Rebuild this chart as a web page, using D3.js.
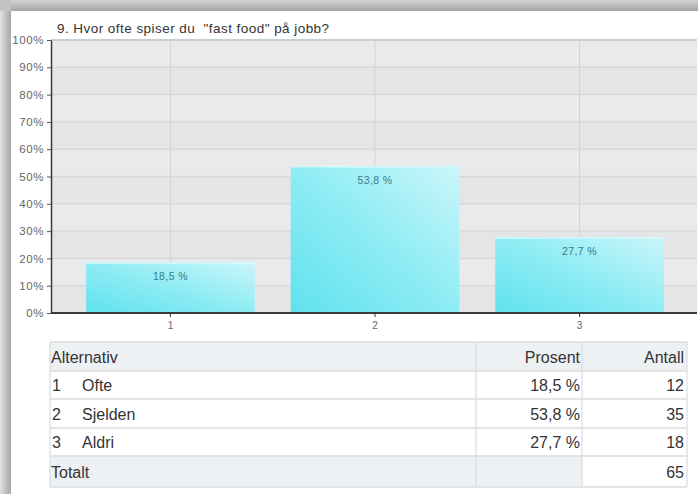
<!DOCTYPE html>
<html>
<head>
<meta charset="utf-8">
<script src="https://cdn.jsdelivr.net/npm/d3@7"></script>
<style>
  html, body { margin: 0; padding: 0; background: #fff; }
  svg { display: block; font-family: Arial, "Liberation Sans", Helvetica, sans-serif; }
</style>
</head>
<body>
<svg id="chart" width="698" height="494"></svg>
<script>
// Survey question 9: how often do you eat fast food at work
const title = "9. Hvor ofte spiser du  \"fast food\" på jobb?";
const categories = ["1", "2", "3"];
const alternatives = ["Ofte", "Sjelden", "Aldri"];
const percents = [18.5, 53.8, 27.7];
const counts = [12, 35, 18];
const totalCount = 65;
const yTicks = [0, 10, 20, 30, 40, 50, 60, 70, 80, 90, 100];
const tableHeaders = ["Alternativ", "Prosent", "Antall"];
const totalLabel = "Totalt";

const W = 698, H = 494;
const svg = d3.select("#chart");
const defs = svg.append("defs");

// Norwegian number format: decimal comma
const nb = d3.formatLocale({ decimal: ",", thousands: " ", grouping: [3], currency: ["", " kr"] });
const fmtPct = v => nb.format(".1f")(v) + " %";

// ---- card with soft drop shadow ----
const gLeft = defs.append("linearGradient").attr("id", "shLeft").attr("x1", 0).attr("x2", 1).attr("y1", 0).attr("y2", 0);
gLeft.append("stop").attr("offset", 0).attr("stop-color", "#e2e2e2");
gLeft.append("stop").attr("offset", 1).attr("stop-color", "#a6a6a6");
const gTop = defs.append("linearGradient").attr("id", "shTop").attr("x1", 0).attr("x2", 0).attr("y1", 0).attr("y2", 1);
gTop.append("stop").attr("offset", 0).attr("stop-color", "#d2d2d2");
gTop.append("stop").attr("offset", 1).attr("stop-color", "#a4a4a4");

svg.append("rect").attr("x", 0).attr("y", 0).attr("width", W).attr("height", H).attr("fill", "#fff");
svg.append("rect").attr("x", 0).attr("y", 0).attr("width", 11).attr("height", H).attr("fill", "url(#shLeft)");
svg.append("rect").attr("x", 0).attr("y", 0).attr("width", W).attr("height", 11).attr("fill", "url(#shTop)");
svg.append("rect").attr("x", 0).attr("y", 0).attr("width", 11).attr("height", 11).attr("fill", "#c2c2c2");

// ---- plot area ----
const plot = { left: 51, right: 697, top: 40, bottom: 313 };

const x = d3.scaleBand()
  .domain(categories)
  .range([53, plot.right])
  .paddingInner(0.176)
  .paddingOuter(0.162);

const y = d3.scaleLinear().domain([0, 100]).range([plot.bottom, plot.top]);

// alternating background stripes
const bands = yTicks.slice(0, -1).map((t, i) => ({ lo: t, hi: yTicks[i + 1], i }));
svg.append("g").selectAll("rect").data(bands).join("rect")
  .attr("x", plot.left).attr("width", plot.right - plot.left)
  .attr("y", d => y(d.hi)).attr("height", d => y(d.lo) - y(d.hi))
  .attr("fill", d => d.i % 2 === 0 ? "#e4e5e7" : "#e9eaec");

// horizontal grid
svg.append("g").selectAll("line").data(yTicks.slice(1, -1)).join("line")
  .attr("x1", plot.left).attr("x2", plot.right)
  .attr("y1", d => y(d)).attr("y2", d => y(d))
  .attr("stroke", "#d7d8da").attr("stroke-width", 1.5);

// vertical grid at category centres
svg.append("g").selectAll("line").data(categories).join("line")
  .attr("x1", d => x(d) + x.bandwidth() / 2).attr("x2", d => x(d) + x.bandwidth() / 2)
  .attr("y1", plot.top).attr("y2", plot.bottom)
  .attr("stroke", "#d2d3d5").attr("stroke-width", 1);

// top border of plot
svg.append("line").attr("x1", plot.left).attr("x2", plot.right)
  .attr("y1", plot.top).attr("y2", plot.top)
  .attr("stroke", "#c9ced3").attr("stroke-width", 2);

// bars
const barGrad = defs.append("linearGradient").attr("id", "barGrad")
  .attr("x1", 0).attr("y1", 1).attr("x2", 1).attr("y2", 0);
barGrad.append("stop").attr("offset", 0).attr("stop-color", "#5fe2ee");
barGrad.append("stop").attr("offset", 0.5).attr("stop-color", "#8eecf4");
barGrad.append("stop").attr("offset", 1).attr("stop-color", "#cbf6fa");

const barData = categories.map((c, i) => ({ c, v: percents[i] }));
svg.append("g").selectAll("rect").data(barData).join("rect")
  .attr("x", d => x(d.c)).attr("width", x.bandwidth())
  .attr("y", d => y(d.v)).attr("height", d => y(0) - y(d.v))
  .attr("fill", "url(#barGrad)");
// light top edge of each bar
svg.append("g").selectAll("line").data(barData).join("line")
  .attr("x1", d => x(d.c)).attr("x2", d => x(d.c) + x.bandwidth())
  .attr("y1", d => y(d.v) + 0.5).attr("y2", d => y(d.v) + 0.5)
  .attr("stroke", "#d4f8fb").attr("stroke-width", 1.5);

// value labels inside bars
svg.append("g").selectAll("text").data(barData).join("text")
  .attr("x", d => x(d.c) + x.bandwidth() / 2)
  .attr("y", d => y(d.v) + 18)
  .attr("text-anchor", "middle")
  .attr("font-size", 10.5).attr("letter-spacing", 0.4).attr("fill", "#3b7c86")
  .text(d => fmtPct(d.v));

// y axis
const yAxis = svg.append("g")
  .attr("transform", `translate(${plot.left},0)`)
  .call(d3.axisLeft(y).tickValues(yTicks).tickFormat(d => d + "%").tickSize(4).tickSizeOuter(0));
yAxis.select(".domain").attr("stroke", "#3a3a3a").attr("stroke-width", 1.5);
yAxis.selectAll(".tick line").attr("stroke", "#555");
yAxis.selectAll(".tick text").attr("font-size", 11.5).attr("fill", "#666").attr("x", -7)
  .attr("font-family", "Arial, 'Liberation Sans', sans-serif").attr("letter-spacing", 0.6);

// x axis
const xAxis = svg.append("g")
  .attr("transform", `translate(0,${plot.bottom})`)
  .call(d3.axisBottom(x).tickSize(4).tickSizeOuter(0));
xAxis.select(".domain").attr("stroke", "#3a3a3a").attr("stroke-width", 2)
  .attr("d", `M${plot.left},0H${plot.right}`);
xAxis.selectAll(".tick line").attr("stroke", "#333");
xAxis.selectAll(".tick text").attr("font-size", 10).attr("fill", "#666").attr("y", 9)
  .attr("font-family", "Arial, 'Liberation Sans', sans-serif");

// title
svg.append("text")
  .attr("x", 57).attr("y", 33)
  .attr("font-size", 13.5).attr("fill", "#333")
  .attr("letter-spacing", 0.45)
  .style("white-space", "pre")
  .text(title);

// ---- summary table ----
const tbl = { left: 50, right: 687, col1: 476, col2: 582 };
const rowEdges = [342, 371, 399, 428, 456, 487];
const rows = [
  { kind: "head", cells: tableHeaders },
  ...alternatives.map((a, i) => ({ kind: "data", num: i + 1, name: a, pct: fmtPct(percents[i]), n: counts[i] })),
  { kind: "total", cells: [totalLabel, "", totalCount] }
];

const tg = svg.append("g").attr("font-size", 16).attr("fill", "#333");
const border = "#d9dde1";
const shade = "#eef1f4";

rows.forEach((r, i) => {
  const y0 = rowEdges[i], y1 = rowEdges[i + 1], cy = (y0 + y1) / 2 + 6;
  if (r.kind === "head") {
    tg.append("rect").attr("x", tbl.left).attr("y", y0).attr("width", tbl.right - tbl.left).attr("height", y1 - y0).attr("fill", shade);
  } else if (r.kind === "total") {
    tg.append("rect").attr("x", tbl.left).attr("y", y0).attr("width", tbl.col2 - tbl.left).attr("height", y1 - y0).attr("fill", shade);
  }
  // row separator
  tg.append("line").attr("x1", tbl.left).attr("x2", tbl.right).attr("y1", y0).attr("y2", y0).attr("stroke", border).attr("stroke-width", 1.5);
  if (r.kind === "head") {
    tg.append("text").attr("x", 51).attr("y", cy).text(r.cells[0]);
    tg.append("text").attr("x", 580).attr("y", cy).attr("text-anchor", "end").text(r.cells[1]);
    tg.append("text").attr("x", 684).attr("y", cy).attr("text-anchor", "end").text(r.cells[2]);
  } else if (r.kind === "data") {
    tg.append("text").attr("x", 52).attr("y", cy).text(r.num);
    tg.append("text").attr("x", 82).attr("y", cy).text(r.name);
    tg.append("text").attr("x", 580).attr("y", cy).attr("text-anchor", "end").text(r.pct);
    tg.append("text").attr("x", 684).attr("y", cy).attr("text-anchor", "end").text(r.n);
  } else {
    tg.append("text").attr("x", 51).attr("y", cy).text(r.cells[0]);
    tg.append("text").attr("x", 684).attr("y", cy).attr("text-anchor", "end").text(r.cells[2]);
  }
});
const yEnd = rowEdges[rowEdges.length - 1];
tg.append("line").attr("x1", tbl.left).attr("x2", tbl.right).attr("y1", yEnd).attr("y2", yEnd).attr("stroke", border).attr("stroke-width", 1.5);
// column dividers
[tbl.left, tbl.col1, tbl.col2, tbl.right].forEach(cx => {
  tg.append("line").attr("x1", cx).attr("x2", cx)
    .attr("y1", rowEdges[0]).attr("y2", yEnd)
    .attr("stroke", border).attr("stroke-width", 1.2);
});
</script>
</body>
</html>
